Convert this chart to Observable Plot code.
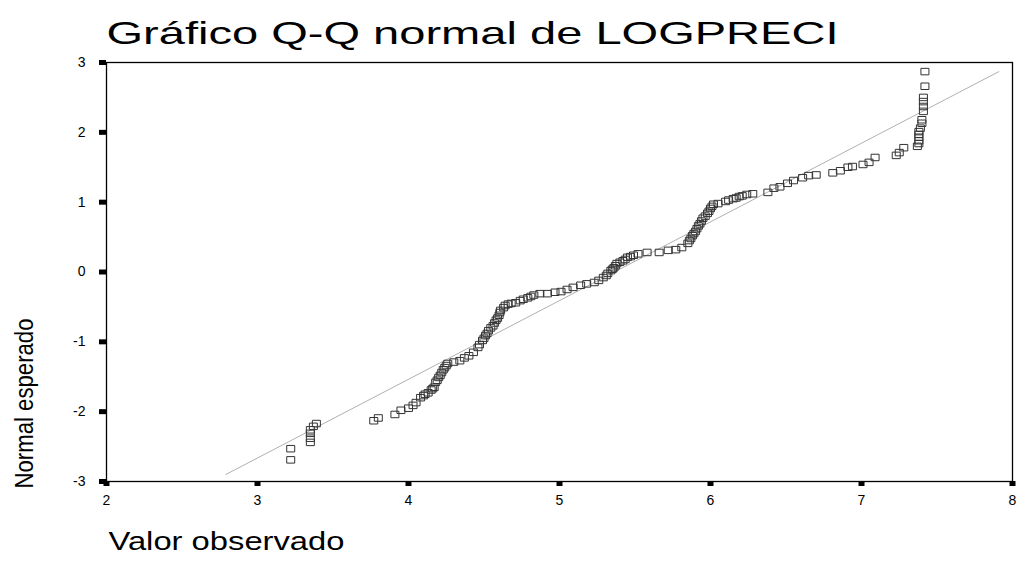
<!DOCTYPE html>
<html>
<head>
<meta charset="utf-8">
<script src="https://cdn.jsdelivr.net/npm/d3@7"></script>
<script src="https://cdn.jsdelivr.net/npm/@observablehq/plot@0.6"></script>
<style>
  html, body { margin: 0; padding: 0; background: white; }
  #chart { width: 1018px; height: 563px; }
</style>
</head>
<body>
<div id="chart"></div>
<script>
const obsX = [3.22,3.22,3.35,3.35,3.35,3.35,3.37,3.39,
  3.77,3.80,3.91,3.95,4.00,4.03,4.05,4.08,4.10,4.11,4.13,4.15,4.16,4.17,4.18,4.19,4.20,4.21,4.22,4.23,4.24,4.25,4.26,4.30,4.34,4.37,4.40,4.43,
  4.46,4.47,4.49,4.50,4.51,4.52,4.53,4.545,4.56,4.57,4.58,4.59,4.60,4.605,4.61,4.63,4.64,4.66,4.68,4.71,4.74,4.76,4.79,4.81,4.83,4.87,4.92,4.97,
  5.01,5.05,5.09,5.14,5.18,5.23,5.26,5.29,5.31,5.32,5.34,5.35,5.36,5.37,5.38,5.40,5.42,5.435,5.45,5.47,5.49,
  5.52,5.58,5.66,5.72,5.77,5.81,5.85,5.86,5.87,5.88,5.89,5.90,5.91,5.92,5.93,5.94,5.95,5.965,5.98,5.99,6.00,6.01,6.02,6.05,
  6.10,6.12,6.15,6.17,6.19,6.21,6.24,6.28,6.38,6.42,6.46,6.51,
  6.55,6.61,6.65,6.70,6.81,6.86,6.91,6.94,7.01,7.05,7.09,7.23,7.25,7.28,
  7.37,7.38,7.38,7.38,7.38,7.38,7.39,7.40,7.40,7.41,7.41,7.41,7.41,7.42,7.42];
const expY = [-2.69,-2.53,-2.44,-2.38,-2.31,-2.26,-2.21,-2.17,
  -2.13,-2.09,-2.04,-1.98,-1.95,-1.91,-1.87,-1.80,-1.77,-1.75,-1.73,-1.69,-1.67,-1.65,-1.58,-1.55,-1.51,-1.48,-1.44,-1.40,-1.37,-1.34,-1.31,-1.29,-1.27,-1.23,-1.20,-1.15,
  -1.08,-1.04,-0.98,-0.95,-0.91,-0.88,-0.84,-0.80,-0.77,-0.73,-0.69,-0.66,-0.62,-0.58,-0.55,-0.51,-0.48,-0.46,-0.45,-0.44,-0.41,-0.39,-0.37,-0.35,-0.33,-0.31,-0.31,-0.29,
  -0.28,-0.25,-0.22,-0.19,-0.17,-0.15,-0.12,-0.08,-0.05,-0.02,0.02,0.04,0.06,0.09,0.12,0.14,0.16,0.18,0.21,0.22,0.24,
  0.26,0.28,0.28,0.31,0.32,0.35,0.41,0.45,0.48,0.52,0.55,0.58,0.62,0.66,0.69,0.73,0.77,0.80,0.84,0.87,0.91,0.94,0.97,0.98,
  1.01,1.03,1.05,1.06,1.08,1.09,1.11,1.12,1.14,1.20,1.22,1.27,
  1.31,1.35,1.38,1.39,1.42,1.45,1.50,1.51,1.54,1.57,1.64,1.67,1.71,1.78,
  1.80,1.84,1.88,1.93,1.97,2.01,2.06,2.13,2.18,2.30,2.37,2.44,2.50,2.66,2.87];

// Reference line endpoints
const lineX = [2.79, 7.91];
const lineY = [-2.90, 2.87];

const xTicks = [2,3,4,5,6,7,8];
const yTicks = [-3,-2,-1,0,1,2,3];

const titleText = "Gráfico Q-Q normal de LOGPRECI";
const xLabel = "Valor observado";
const yLabel = "Normal esperado";

const points = obsX.map((x, i) => ({x, y: expY[i]}));
const refLine = lineX.map((x, i) => ({x, y: lineY[i]}));

// open rectangle marker, a bit wider than tall
const rectSymbol = {
  draw(context, size) {
    const w = 8, h = 6.5;
    context.moveTo(-w/2, -h/2);
    context.lineTo(w/2, -h/2);
    context.lineTo(w/2, h/2);
    context.lineTo(-w/2, h/2);
    context.closePath();
  }
};

const font = "'Liberation Sans', Arial, sans-serif";

const chart = Plot.plot({
  width: 1018,
  height: 563,
  marginLeft: 106,
  marginRight: 6,
  marginTop: 62,
  marginBottom: 82,
  style: {fontFamily: font, background: "white", color: "black"},
  x: {domain: [2, 8]},
  y: {domain: [-3, 3]},
  marks: [
    Plot.line(refLine, {x: "x", y: "y", stroke: "#b0b0b0", strokeWidth: 1}),
    Plot.dot(points, {x: "x", y: "y", symbol: rectSymbol, r: 4, stroke: "#333", fill: "none", strokeWidth: 1}),
    Plot.axisX({ticks: xTicks, tickFormat: d => String(d), tickSize: 5, strokeWidth: 6, tickPadding: 9, fontSize: 14, label: null, color: "black"}),
    Plot.axisY({ticks: yTicks, tickFormat: d => String(d), tickSize: 7, strokeWidth: 5, tickPadding: 14, fontSize: 14, label: null, color: "black"}),
    Plot.frame({stroke: "black", strokeWidth: 1.3}),
    Plot.text([titleText], {text: d => d, frameAnchor: "top-left", dx: 0, dy: -29, textAnchor: "start", lineAnchor: "middle", fontSize: 32, fill: "black"}),
    Plot.text([xLabel], {text: d => d, frameAnchor: "bottom-left", dx: 2, dy: 60, textAnchor: "start", lineAnchor: "middle", fontSize: 26, fill: "black"}),
    Plot.text([yLabel], {text: d => d, frameAnchor: "bottom-left", dx: -82, dy: -78, textAnchor: "middle", lineAnchor: "middle", rotate: -90, fontSize: 26, fill: "black"})
  ]
});

document.getElementById("chart").appendChild(chart);

// stretch / condense the titles to the lengths seen in the picture
const fitLengths = new Map([[titleText, 732], [xLabel, 236], [yLabel, 170]]);
d3.select(chart).selectAll("text").each(function () {
  const len = fitLengths.get(this.textContent);
  if (len) d3.select(this).attr("textLength", len).attr("lengthAdjust", "spacingAndGlyphs");
});
</script>
</body>
</html>
